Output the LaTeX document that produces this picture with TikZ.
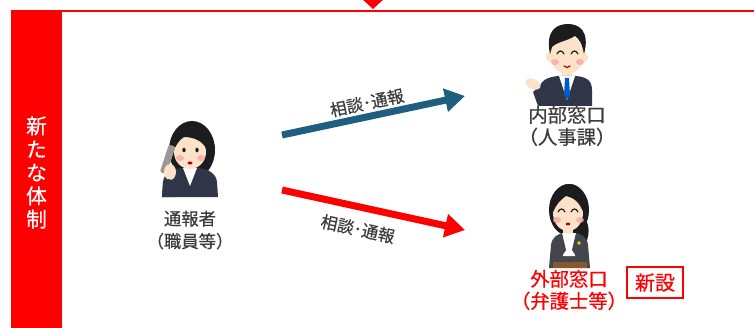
\documentclass[tikz,border=0pt]{standalone}
\usepackage{fontspec}
\setmainfont{Noto Sans CJK JP}[FakeBold=0.5]
\usetikzlibrary{arrows.meta}
\definecolor{c1}{HTML}{FF0000}
\definecolor{c2}{HTML}{1E5F80}
\definecolor{c3}{HTML}{3C3C3C}
\definecolor{skintone}{HTML}{FCE2C8}
\definecolor{hairtone}{HTML}{1C1C1E}
\definecolor{suittone}{HTML}{2E3648}
\definecolor{greytone}{HTML}{45464C}
\definecolor{cheektone}{HTML}{F7A9A0}

\begin{document}
\begin{tikzpicture}[
    x=0.75pt, y=-0.75pt,
    who/.style={font=\fontsize{13}{17}\selectfont, text=c3, align=center, inner sep=0pt},
    desk/.style={who, font=\fontsize{14.5}{16.5}\selectfont},
    say/.style={font=\fontsize{12.5}{14}\selectfont, text=c3, sloped, inner sep=2pt},
    flow/.style={-{Triangle[length=15pt, width=17pt]}, line width=5.25pt},
    skin/.style={fill=skintone},
    hair/.style={fill=hairtone},
    suit/.style={fill=suittone},
    shirt/.style={fill=white},
    cheek/.style={fill=cheektone, opacity=0.8},
    lid/.style={draw=hairtone, line width=0.9pt, line cap=round},
]
\useasboundingbox (0,0) rectangle (754,328);

% ================================================================ frame
\fill[c1] (361,-2) -- (385,-2) -- (373,9) -- cycle;
\draw[c1, line width=1.5pt] (11,11) -- (758,11);
\fill[c1] (11,11) rectangle (62,332);
\node[text=white, font=\fontsize{15.5}{17.5}\selectfont, align=center, inner sep=0pt]
    (sys) at (36.5,172.5) {新\\た\\な\\体\\制};

% ================================================================ reporter
\fill[hair] (192,150) ellipse [x radius=23, y radius=29];
\fill[skin] (185,160) rectangle (195,172);
\fill[suit] (162,197) -- (163,182) .. controls (164,173) and (172,169) .. (182,168)
    -- (198,168) .. controls (208,169) and (216,173) .. (217,182) -- (218,197) -- cycle;
\fill[shirt] (183,168) -- (190,186) -- (197,168) -- cycle;
\fill[skin] (190,152) ellipse [x radius=16, y radius=17];
\fill[hair] (173,152) .. controls (172,130) and (182,124) .. (192,124)
    .. controls (203,124) and (209,133) .. (207,150)
    .. controls (203,141) and (194,137) .. (184,137)
    .. controls (179,140) and (176,145) .. (173,152) -- cycle;
\fill[hairtone] (184,150) ellipse [x radius=1.7, y radius=2.3];
\fill[hairtone] (197,150) ellipse [x radius=1.7, y radius=2.3];
\fill[cheek] (180,158) ellipse [x radius=4, y radius=3];
\fill[cheek] (201,158) ellipse [x radius=4, y radius=3];
\fill[red!70!black] (190,163) ellipse [x radius=2.5, y radius=1.5];
\fill[gray!80, rounded corners=1.5pt, rotate around={-18:(168,160)}] (164,145) rectangle (171,174);
\fill[skin] (170,172) ellipse [x radius=6, y radius=8];
\fill[suit] (162,197) -- (163,182) -- (169,179) -- (176,183) -- (175,197) -- cycle;
\node[who] (rep) at (190,230) {通報者\\（職員等）};

% ================================================================ internal desk
\fill[skin] (550,57) ellipse [x radius=4, y radius=5];
\fill[skin] (584,57) ellipse [x radius=4, y radius=5];
\fill[skin] (562,68) rectangle (572,78);
\fill[suit] (538,106) -- (539,90) .. controls (540,80) and (548,77) .. (558,76)
    -- (576,76) .. controls (586,77) and (592,80) .. (592,90) -- (592,106) -- cycle;
\fill[shirt] (559,76) -- (567,100) -- (575,76) -- cycle;
\fill[blue!55!cyan!80!black] (565,78) -- (569,78) -- (570,95) -- (567,99) -- (564,95) -- cycle;
\fill[skin] (567,55) ellipse [x radius=17, y radius=19];
\fill[hair] (550,54) .. controls (545,30) and (557,24) .. (568,24)
    .. controls (580,24) and (590,32) .. (584,54)
    .. controls (582,43) and (579,39) .. (575,36)
    .. controls (567,41) and (557,42) .. (552,47) -- cycle;
\draw[lid] (557,54) .. controls (559,50) and (562,50) .. (564,54);
\draw[lid] (571,54) .. controls (573,50) and (576,50) .. (578,54);
\fill[cheek] (555,62) ellipse [x radius=4, y radius=3];
\fill[cheek] (580,62) ellipse [x radius=4, y radius=3];
\draw[red!70!black, line width=1pt, line cap=round] (564,66) .. controls (566,68) and (568,68) .. (570,66);
\fill[suit] (538,106) -- (533,92) -- (539,86) -- (549,96) -- (546,106) -- cycle;
\fill[skin, rotate around={-25:(533,84)}] (533,84) ellipse [x radius=8, y radius=5];
\node[desk] (inner) at (567,126) {内部窓口\\（人事課）};

% ================================================================ external desk
\fill[hair] (569,210) ellipse [x radius=20, y radius=26];
\fill[hair] (580,212) .. controls (592,222) and (590,240) .. (583,246) -- (576,230) -- cycle;
\fill[skin] (563,226) rectangle (573,236);
\fill[greytone] (549,268) -- (551,245) .. controls (552,237) and (558,234) .. (563,233)
    -- (575,233) .. controls (582,234) and (587,237) .. (588,245) -- (590,268) -- cycle;
\fill[shirt] (562,233) -- (563,256) -- (575,256) -- (576,233) -- cycle;
\fill[greytone] (562,233) -- (566,250) -- (562,256) -- cycle;
\fill[greytone] (576,233) -- (572,250) -- (576,256) -- cycle;
\fill[yellow!70!orange] (579,243) circle [radius=1.8];
\fill[brown!70!black] (553,262) rectangle (587,268);
\fill[skin] (568,213) ellipse [x radius=15, y radius=18];
\fill[hair] (553,212) .. controls (551,193) and (560,184) .. (569,184)
    .. controls (580,184) and (588,194) .. (584,214)
    .. controls (580,203) and (575,198) .. (566,196)
    .. controls (560,200) and (556,205) .. (553,212) -- cycle;
\draw[lid] (558,212) .. controls (560,208) and (563,208) .. (565,212);
\draw[lid] (571,212) .. controls (573,208) and (576,208) .. (578,212);
\fill[cheek] (557,220) ellipse [x radius=4, y radius=3];
\fill[cheek] (580,220) ellipse [x radius=4, y radius=3];
\fill[red!70!black] (568,224) ellipse [x radius=2.3, y radius=1.4];
\node[desk, text=c1] (outer) at (569,290) {外部窓口\\（弁護士等）};
\node[draw=c1, line width=1.5pt, text=c1, font=\fontsize{15}{17}\selectfont,
      minimum width=42pt, minimum height=23pt, inner sep=0pt] (newtag) at (655,282.5) {新設};

% ================================================================ reports
\coordinate (toinner) at (465,96);
\coordinate (toouter) at (465,230);
\coordinate (fromrep1) at (282,135);
\coordinate (fromrep2) at (282,190);
\draw[flow, c2] (fromrep1) -- (toinner) node[say, pos=0.48, above] (say1) {相談･通報};
\draw[flow, c1] (fromrep2) -- (toouter) node[say, pos=0.44, below=6pt] (say2) {相談･通報};

\end{tikzpicture}
\end{document}
